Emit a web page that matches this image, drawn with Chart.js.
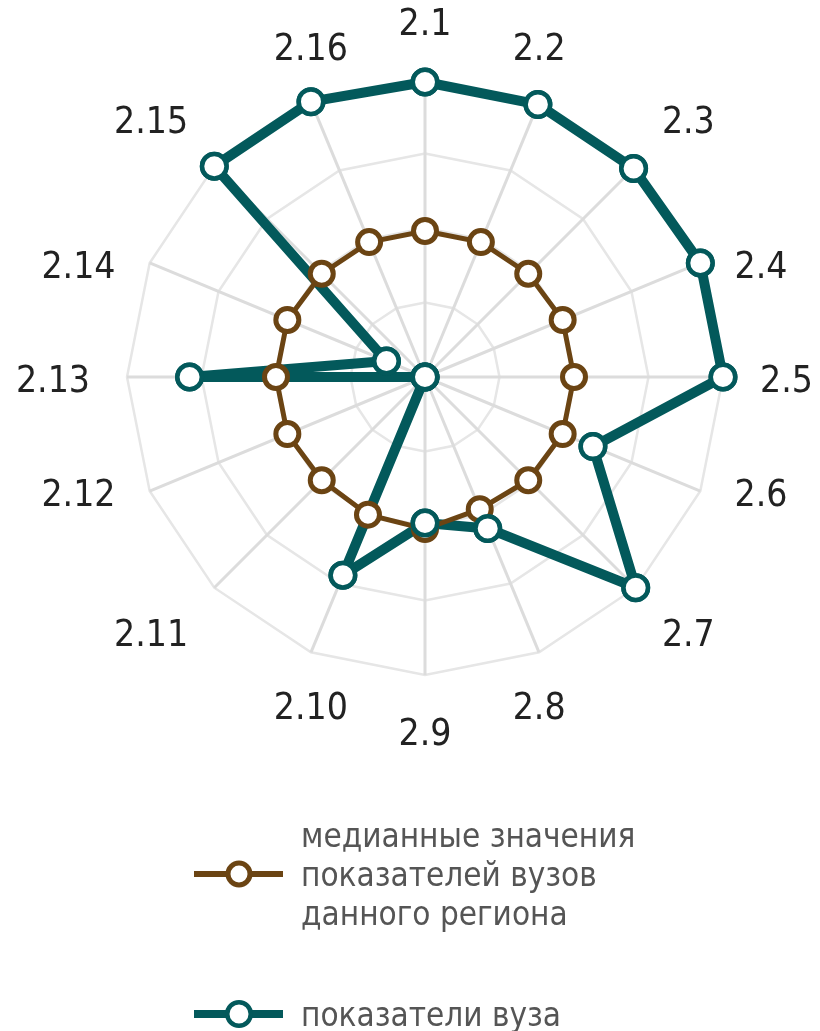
<!DOCTYPE html>
<html lang="ru">
<head>
<meta charset="utf-8">
<title>Показатели вуза</title>
<script src="https://cdn.jsdelivr.net/npm/chart.js@4.4.1/dist/chart.umd.min.js"></script>
<style>
  html, body { margin: 0; padding: 0; background: #fff; }
  #wrap { width: 820px; height: 1031px; }
</style>
</head>
<body>
<div id="wrap"><canvas id="radar" width="820" height="1031"></canvas></div>
<script>
const categories = ['2.1', '2.2', '2.3', '2.4', '2.5', '2.6', '2.7', '2.8',
  '2.9', '2.10', '2.11', '2.12', '2.13', '2.14', '2.15', '2.16'];

const medianValues = [0.49, 0.49, 0.49, 0.50, 0.50, 0.50, 0.49, 0.48,
  0.51, 0.50, 0.49, 0.50, 0.50, 0.50, 0.49, 0.49];

const universityValues = [0.99, 0.99, 0.99, 1.00, 1.00, 0.61, 1.00, 0.55,
  0.49, 0.72, 0, 0, 0.79, 0.14, 1.00, 1.00];

const medianLabel = ['медианные значения', 'показателей вузов', 'данного региона'];
const universityLabel = ['показатели вуза'];

const scaleMax = 1;
const tickStep = 0.25;

const BROWN = '#6b4413';
const TEAL = '#03595b';
const LABEL_FONT = "37px 'DejaVu Sans Condensed', 'DejaVu Sans', sans-serif";
const LEGEND_FONT = "33px 'DejaVu Sans Condensed', 'DejaVu Sans', sans-serif";

// category labels round the web, placed off the scale's own point positions
const pointLabelPlugin = {
  id: 'webLabels',
  afterDraw(chart) {
    const scale = chart.scales.r;
    const ctx = chart.ctx;
    const cx = scale.xCenter;
    const cy = scale.yCenter;
    ctx.save();
    ctx.font = LABEL_FONT;
    ctx.fillStyle = '#222';
    ctx.textBaseline = 'middle';
    categories.forEach((label, i) => {
      const a = scale.getIndexAngle(i);
      const sx = Math.sin(a);
      const sy = -Math.cos(a);
      const p = scale.getPointPosition(i, scale.drawingArea + 37);
      let x = p.x;
      let y = p.y;
      let align = 'center';
      if (Math.abs(sx) >= 0.5) {
        align = sx > 0 ? 'left' : 'right';
      } else {
        x = cx + (p.x - cx) * 0.89;
      }
      if (Math.abs(sy) >= 0.5) {
        y += sy > 0 ? 23 : -17;
      } else {
        y = cy + 5 + (p.y - cy) * 0.89;
      }
      ctx.textAlign = align;
      ctx.fillText(label, x, y);
    });
    ctx.restore();
  }
};

// teal markers sit above the brown series, its line below
const markersOnTop = {
  id: 'markersOnTop',
  afterDatasetsDraw(chart) {
    const meta = chart.getDatasetMeta(1);
    meta.data.forEach((pt) => pt.draw(chart.ctx, chart.chartArea));
  }
};

const legendPlugin = {
  id: 'stackedLegend',
  afterDraw(chart) {
    const ctx = chart.ctx;
    const items = [
      { ds: 0, y: 874, lines: medianLabel, lineWidth: 6 },
      { ds: 1, y: 1014, lines: universityLabel, lineWidth: 8 },
    ];
    ctx.save();
    items.forEach((item) => {
      const ds = chart.data.datasets[item.ds];
      ctx.strokeStyle = ds.borderColor;
      ctx.lineWidth = item.lineWidth;
      ctx.beginPath();
      ctx.moveTo(194, item.y);
      ctx.lineTo(283, item.y);
      ctx.stroke();
      ctx.beginPath();
      ctx.arc(239, item.y, ds.pointRadius - 0.5, 0, Math.PI * 2);
      ctx.fillStyle = '#fff';
      ctx.fill();
      ctx.lineWidth = ds.pointBorderWidth;
      ctx.stroke();

      ctx.font = LEGEND_FONT;
      ctx.fillStyle = '#555';
      ctx.textAlign = 'left';
      ctx.textBaseline = 'middle';
      const n = item.lines.length;
      item.lines.forEach((line, k) => {
        ctx.fillText(line, 301, item.y + 3 + (k - (n - 1) / 2) * 39);
      });
    });
    ctx.restore();
  }
};

new Chart(document.getElementById('radar'), {
  type: 'radar',
  data: {
    labels: categories,
    datasets: [
      {
        label: medianLabel.join(' '),
        data: medianValues,
        borderColor: BROWN,
        borderWidth: 5,
        backgroundColor: 'transparent',
        fill: false,
        pointRadius: 11.5,
        pointBorderWidth: 5,
        pointBackgroundColor: '#fff',
        pointBorderColor: BROWN,
        clip: false,
      },
      {
        label: universityLabel.join(' '),
        data: universityValues,
        borderColor: TEAL,
        borderWidth: 10,
        borderJoinStyle: 'round',
        backgroundColor: 'transparent',
        fill: false,
        pointRadius: 12.25,
        pointBorderWidth: 4.5,
        pointBackgroundColor: '#fff',
        pointBorderColor: TEAL,
        clip: false,
      },
    ],
  },
  options: {
    responsive: false,
    animation: false,
    devicePixelRatio: 1,
    layout: {
      padding: { left: 127, right: 97, top: 79, bottom: 356 },
    },
    elements: {
      line: { tension: 0 },
    },
    plugins: {
      legend: { display: false },
      tooltip: { enabled: false },
    },
    scales: {
      r: {
        min: 0,
        max: scaleMax,
        ticks: { display: false, stepSize: tickStep },
        grid: { color: '#e6e6e6', lineWidth: 2.5, circular: false },
        angleLines: { color: '#dcdcdc', lineWidth: 3 },
        pointLabels: { display: false },
      },
    },
  },
  plugins: [markersOnTop, pointLabelPlugin, legendPlugin],
});
</script>
</body>
</html>
